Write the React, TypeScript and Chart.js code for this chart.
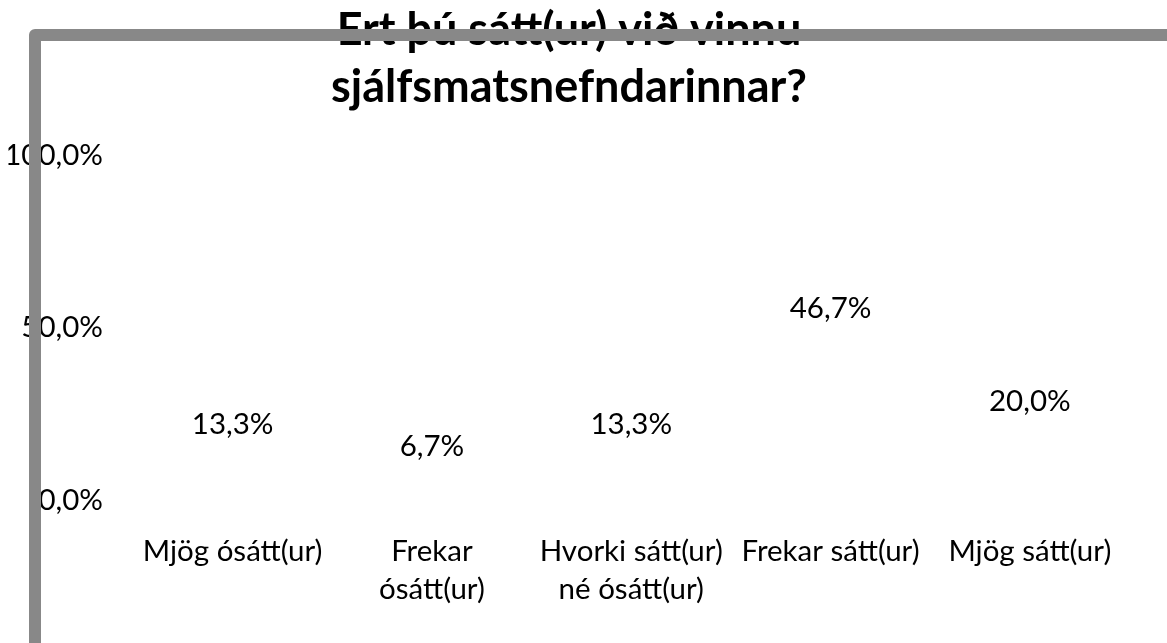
import React, { useEffect, useRef } from "react";
import { Chart, registerables } from "chart.js";

Chart.register(...registerables);

const titleLines = ["Ert þú sátt(ur) við vinnu", "sjálfsmatsnefndarinnar?"];
const categories: string[][] = [
  ["Mjög ósátt(ur)"],
  ["Frekar", "ósátt(ur)"],
  ["Hvorki sátt(ur)", "né ósátt(ur)"],
  ["Frekar sátt(ur)"],
  ["Mjög sátt(ur)"],
];
const values = [13.3, 6.7, 13.3, 46.7, 20.0];
const yTicks = [0, 50, 100];

const FONT = "Lato, 'Noto Sans', sans-serif";
const TXT = 29.5;
const fmt = (v: number) => v.toFixed(1).replace(".", ",") + "%";

const valueLabels = {
  id: "valueLabels",
  afterDatasetsDraw(chart: any) {
    const ctx = chart.ctx;
    const meta = chart.getDatasetMeta(0);
    ctx.save();
    ctx.font = `${TXT}px ${FONT}`;
    ctx.fillStyle = "#000";
    ctx.textAlign = "center";
    ctx.textBaseline = "middle";
    meta.data.forEach((bar: any, i: number) => {
      ctx.fillText(fmt(values[i]), bar.x, bar.y - 30);
    });
    ctx.restore();
  },
};

const frame = {
  id: "frame",
  afterDraw(chart: any) {
    const ctx = chart.ctx;
    ctx.save();
    ctx.strokeStyle = "#888888";
    ctx.lineWidth = 12;
    ctx.lineJoin = "round";
    ctx.strokeRect(35, 35, 1300, 800);
    ctx.restore();
  },
};

export default function App() {
  const ref = useRef<HTMLCanvasElement>(null);
  useEffect(() => {
    if (!ref.current) return;
    const chart = new Chart(ref.current, {
      type: "bar",
      data: {
        labels: categories,
        datasets: [
          {
            data: values,
            backgroundColor: "rgba(0,0,0,0)",
            borderWidth: 0,
          },
        ],
      },
      options: {
        animation: false,
        responsive: true,
        maintainAspectRatio: false,
        layout: { padding: { left: 8.5, right: 37.5, top: 2, bottom: 0 } },
        plugins: {
          legend: { display: false },
          tooltip: { enabled: false },
          title: {
            display: true,
            text: titleLines,
            color: "#000",
            font: { family: FONT, size: 45, weight: "bold", lineHeight: 57 / 45 },
            padding: { top: 0, bottom: 39 },
          },
        },
        scales: {
          x: {
            grid: { display: false, drawTicks: false },
            border: { display: false },
            ticks: {
              color: "#000",
              font: { family: FONT, size: TXT, lineHeight: 38 / TXT },
              maxRotation: 0,
              autoSkip: false,
              padding: 32,
            },
            afterFit: (s: any) => {
              s.height = 143;
            },
          },
          y: {
            min: 0,
            max: 100,
            grid: { display: false, drawTicks: false },
            border: { display: false },
            afterBuildTicks: (s: any) => {
              s.ticks = yTicks.map((v) => ({ value: v }));
            },
            ticks: {
              color: "#000",
              font: { family: FONT, size: TXT },
              padding: 30,
              callback: (v: any) => fmt(Number(v)),
            },
            afterFit: (s: any) => {
              s.width = 124.5;
            },
          },
        },
      },
      plugins: [valueLabels, frame],
    });
    return () => chart.destroy();
  }, []);
  return (
    <div style={{ position: "fixed", left: 0, top: 0, width: 1167, height: 643, background: "#fff" }}>
      <canvas ref={ref} />
    </div>
  );
}
